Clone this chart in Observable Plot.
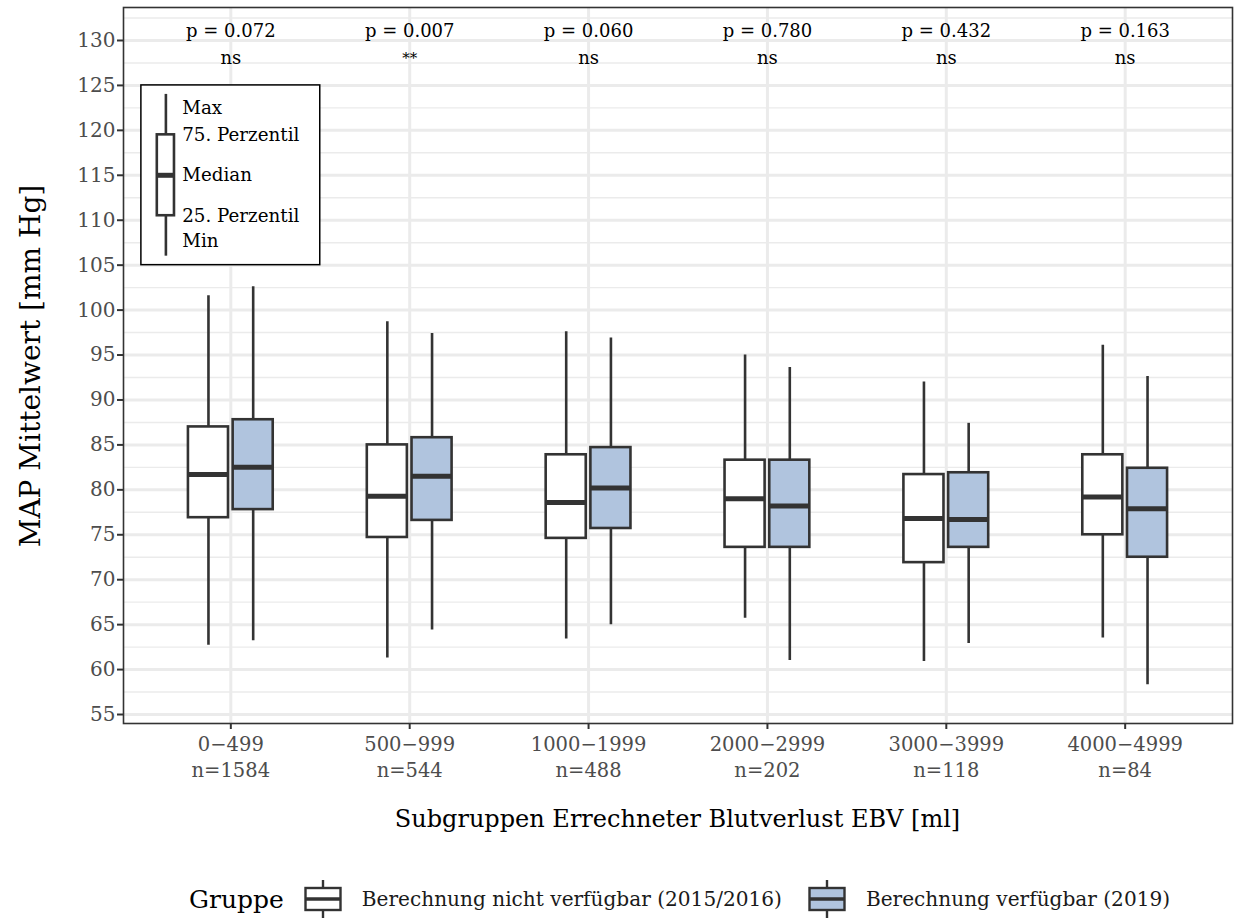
<!DOCTYPE html>
<html>
<head>
<meta charset="utf-8">
<script src="https://cdn.jsdelivr.net/npm/d3@7"></script>
<script src="https://cdn.jsdelivr.net/npm/@observablehq/plot@0.6"></script>
<style>
  html, body { margin: 0; padding: 0; background: #fff; }
  #wrap { width: 1238px; font-family: "DejaVu Serif", serif; color: #000; }
  #legend {
    display: flex; align-items: center; justify-content: flex-start;
    height: 38px; margin-top: 35px; padding-left: 189px;
    font-size: 20.1px; color: #1a1a1a; white-space: nowrap;
  }
  #legend .title { font-size: 25px; color: #000; margin-right: 20px; }
  #legend .key { display: block; width: 38px; height: 38px; margin-right: 20px; flex: none; }
  #legend .lab { margin-right: 26px; }
</style>
</head>
<body>
<div id="wrap">
  <div id="chart"></div>
  <div id="legend"></div>
</div>
<script>
// EBV subgroups and their sample sizes
const categories = ["0−499", "500−999", "1000−1999", "2000−2999", "3000−3999", "4000−4999"];
const counts = [1584, 544, 488, 202, 118, 84];

// Comparison groups
const groups = ["Berechnung nicht verfügbar (2015/2016)", "Berechnung verfügbar (2019)"];
const groupColors = ["#FFFFFF", "#B0C4DE"];

// Five-number summaries of mean MAP [mm Hg], 2015/2016
const minA = [62.7, 61.3, 63.4, 65.7, 60.9, 63.5];
const q1A  = [76.9, 74.7, 74.6, 73.6, 71.9, 75.0];
const medA = [81.7, 79.3, 78.6, 79.0, 76.8, 79.2];
const q3A  = [87.0, 85.0, 83.9, 83.3, 81.7, 83.9];
const maxA = [101.6, 98.7, 97.6, 95.0, 92.0, 96.1];

// Five-number summaries of mean MAP [mm Hg], 2019
const minB = [63.2, 64.4, 65.0, 61.0, 62.9, 58.3];
const q1B  = [77.8, 76.6, 75.7, 73.6, 73.6, 72.5];
const medB = [82.5, 81.5, 80.2, 78.2, 76.7, 77.9];
const q3B  = [87.8, 85.8, 84.7, 83.3, 81.9, 82.4];
const maxB = [102.6, 97.4, 96.9, 93.6, 87.4, 92.6];

// Test results per subgroup
const pValues = ["0.072", "0.007", "0.060", "0.780", "0.432", "0.163"];
const signif  = ["ns", "**", "ns", "ns", "ns", "ns"];

// Explanatory key: example box values and label anchors
const keyValues = [106, 110.5, 115, 119.5, 124];
const keyLabels = ["Min", "25. Perzentil", "Median", "75. Perzentil", "Max"];
const keyLabelY = [107.7, 110.5, 115, 119.5, 122.5];

const yTitle = "MAP Mittelwert [mm Hg]";
const xTitle = "Subgruppen Errechneter Blutverlust EBV [ml]";
const legendTitle = "Gruppe";

const yTicks = d3.range(55, 131, 5);
const yMinor = d3.range(57.5, 134, 5);

const stats = [
  {min: minA, q1: q1A, med: medA, q3: q3A, max: maxA},
  {min: minB, q1: q1B, med: medB, q3: q3B, max: maxB}
];
const dodge = [-0.125, 0.125];
const halfWidth = 0.112;

const rows = categories.flatMap((c, i) => groups.map((g, j) => ({
  i, group: g, pos: i + dodge[j],
  min: stats[j].min[i], q1: stats[j].q1[i], med: stats[j].med[i],
  q3: stats[j].q3[i], max: stats[j].max[i]
})));

const tests = categories.map((c, i) => ({i, p: `p = ${pValues[i]}`, s: signif[i]}));

// Key glyph and labels placed in data space inside the panel
const keyX = -0.363, keyHalf = 0.048, keyTextX = -0.272;
const keyBox = [{x1: -0.5, x2: 0.5, y1: 105, y2: 125}];
const keyStats = [{min: keyValues[0], q1: keyValues[1], med: keyValues[2], q3: keyValues[3], max: keyValues[4]}];
const keyText = keyLabels.map((t, k) => ({t, y: keyLabelY[k]}));

const ink = "#333333";
const gridCol = "#EBEBEB";

const chart = Plot.plot({
  width: 1238,
  height: 845,
  marginLeft: 123,
  marginRight: 6,
  marginTop: 7,
  marginBottom: 122,
  style: {fontFamily: "DejaVu Serif, serif", background: "#fff", color: "#000"},
  x: {domain: [-0.6, 5.6]},
  y: {domain: [54, 133.67]},
  color: {domain: groups, range: groupColors},
  marks: [
    Plot.gridY(yMinor, {stroke: gridCol, strokeOpacity: 1, strokeWidth: 1.4}),
    Plot.gridY(yTicks, {stroke: gridCol, strokeOpacity: 1, strokeWidth: 3}),
    Plot.gridX(d3.range(categories.length), {stroke: gridCol, strokeOpacity: 1, strokeWidth: 3}),

    // whiskers, boxes, medians
    Plot.ruleX(rows, {x: "pos", y1: "min", y2: "max", stroke: ink, strokeWidth: 2.6}),
    Plot.rect(rows, {x1: d => d.pos - halfWidth, x2: d => d.pos + halfWidth, y1: "q1", y2: "q3",
      fill: "group", stroke: ink, strokeWidth: 2.6}),
    Plot.ruleY(rows, {y: "med", x1: d => d.pos - halfWidth, x2: d => d.pos + halfWidth,
      stroke: ink, strokeWidth: 5}),

    // p-values and significance codes (asterisks set smaller than "ns")
    Plot.text(tests, {x: "i", y: 131, text: "p", fontSize: 18, fill: "#000"}),
    Plot.text(tests, {x: "i", y: 128, text: "s", fontSize: d => d.s === "ns" ? 18 : 15, fill: "#000"}),

    // explanatory key
    Plot.rect(keyBox, {x1: "x1", x2: "x2", y1: "y1", y2: "y2", fill: "#fff", stroke: "#000", strokeWidth: 1.5}),
    Plot.ruleX(keyStats, {x: keyX, y1: "min", y2: "max", stroke: ink, strokeWidth: 2.6}),
    Plot.rect(keyStats, {x1: keyX - keyHalf, x2: keyX + keyHalf, y1: "q1", y2: "q3", fill: "#fff", stroke: ink, strokeWidth: 2.6}),
    Plot.ruleY(keyStats, {y: "med", x1: keyX - keyHalf, x2: keyX + keyHalf, stroke: ink, strokeWidth: 5}),
    Plot.text(keyText, {x: keyTextX, y: "y", text: "t", textAnchor: "start", fontSize: 18.3, fill: "#000"}),

    Plot.frame({stroke: ink, strokeWidth: 1.6}),

    Plot.axisY(yTicks, {
      tickSize: 6, tickPadding: 2, fontSize: 20, stroke: ink, strokeWidth: 2, fill: "#4D4D4D",
      label: yTitle, labelAnchor: "center"
    }),
    Plot.axisX(d3.range(categories.length), {
      tickSize: 6, tickPadding: 3, fontSize: 19.5, lineHeight: 1.333, stroke: ink, strokeWidth: 2, fill: "#4D4D4D",
      tickFormat: i => `${categories[i]}\nn=${counts[i]}`,
      label: xTitle, labelAnchor: "center"
    })
  ]
});

// Axis titles: set size, text and placement explicitly
const svg = d3.select(chart.tagName === "svg" ? chart : chart.querySelector("svg"));
function placeTitle(sel, text, transform, size) {
  const g = svg.select(sel);
  g.attr("transform", null);
  g.selectAll("text")
    .attr("transform", transform)
    .attr("x", null).attr("y", null).attr("dx", null).attr("dy", null)
    .attr("text-anchor", "middle")
    .attr("font-size", size)
    .attr("fill", "#000")
    .text(text);
}
placeTitle("g[aria-label='y-axis label']", yTitle, "translate(40,366) rotate(-90)", 28);
placeTitle("g[aria-label='x-axis label']", xTitle, "translate(677.5,827)", 24);

document.getElementById("chart").appendChild(chart);

// group legend below the chart
const legend = d3.select("#legend");
legend.append("span").attr("class", "title").text(legendTitle);
groups.forEach((g, j) => {
  const key = legend.append("svg").attr("class", "key").attr("viewBox", "0 0 38 38");
  key.append("line").attr("x1", 19).attr("x2", 19).attr("y1", 0).attr("y2", 38)
    .attr("stroke", ink).attr("stroke-width", 2.4);
  key.append("rect").attr("x", 1.5).attr("y", 8).attr("width", 35).attr("height", 22)
    .attr("fill", groupColors[j]).attr("stroke", ink).attr("stroke-width", 2.4);
  key.append("line").attr("x1", 1.5).attr("x2", 36.5).attr("y1", 19).attr("y2", 19)
    .attr("stroke", ink).attr("stroke-width", 3.5);
  legend.append("span").attr("class", "lab").text(g);
});
</script>
</body>
</html>
